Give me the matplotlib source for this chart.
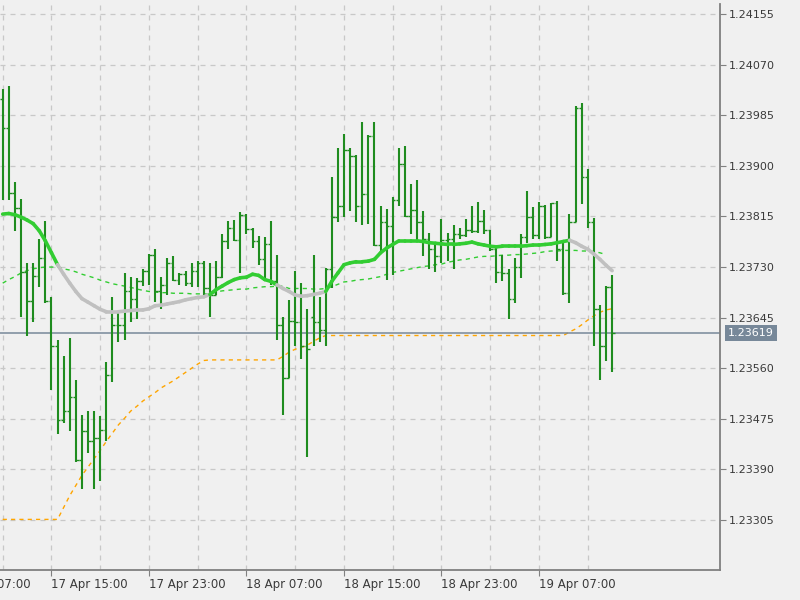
import matplotlib
matplotlib.use('Agg')
import matplotlib.pyplot as plt
from matplotlib.collections import LineCollection
from matplotlib.transforms import blended_transform_factory
import numpy as np
import pandas as pd

# M30 bars, first bar 17 Apr 11:00
start_time = '2019-04-17 11:00'

opens = [1.24012, 1.23963, 1.23854, 1.23829, 1.23722, 1.23673, 1.23715, 1.23746, 1.23673, 1.23598,
         1.23473, 1.23488, 1.23511, 1.23405, 1.23455, 1.23437, 1.23442, 1.23457, 1.23548, 1.23633,
         1.23632, 1.23689, 1.23676, 1.23706, 1.23723, 1.23751, 1.23689, 1.23700, 1.23737, 1.23709,
         1.23718, 1.23703, 1.23723, 1.23737, 1.23694, 1.23683, 1.23714, 1.23774, 1.23796, 1.23775,
         1.23817, 1.23794, 1.23774, 1.23743, 1.23768, 1.23706, 1.23632, 1.23544, 1.23639, 1.23638,
         1.23598, 1.23646, 1.23637, 1.23625, 1.23727, 1.23814, 1.23832, 1.23927, 1.23917, 1.23833,
         1.23852, 1.23950, 1.23767, 1.23805, 1.23799, 1.23842, 1.23903, 1.23816, 1.23826, 1.23805,
         1.23778, 1.23760, 1.23748, 1.23775, 1.23777, 1.23785, 1.23784, 1.23792, 1.23791, 1.23808,
         1.23792, 1.23760, 1.23722, 1.23720, 1.23677, 1.23730, 1.23780, 1.23814, 1.23784, 1.23832,
         1.23781, 1.23837, 1.23760, 1.23686, 1.23806, 1.23998, 1.23882, 1.23805, 1.23660, 1.23598,
         1.23697]
highs = [1.24029, 1.24034, 1.23873, 1.23845, 1.23737, 1.23737, 1.23777, 1.23808, 1.23679, 1.23607,
         1.23580, 1.23611, 1.23541, 1.23482, 1.23489, 1.23488, 1.23479, 1.23570, 1.23679, 1.23655,
         1.23720, 1.23714, 1.23712, 1.23727, 1.23752, 1.23761, 1.23714, 1.23746, 1.23748, 1.23720,
         1.23723, 1.23737, 1.23740, 1.23740, 1.23737, 1.23740, 1.23785, 1.23808, 1.23809, 1.23823,
         1.23819, 1.23796, 1.23782, 1.23780, 1.23808, 1.23751, 1.23646, 1.23675, 1.23723, 1.23703,
         1.23660, 1.23750, 1.23680, 1.23728, 1.23882, 1.23930, 1.23954, 1.23930, 1.23918, 1.23973,
         1.23952, 1.23973, 1.23833, 1.23828, 1.23848, 1.23930, 1.23933, 1.23870, 1.23876, 1.23824,
         1.23788, 1.23768, 1.23811, 1.23788, 1.23800, 1.23796, 1.23811, 1.23832, 1.23839, 1.23826,
         1.23792, 1.23765, 1.23751, 1.23726, 1.23746, 1.23786, 1.23858, 1.23831, 1.23839, 1.23835,
         1.23837, 1.23841, 1.23775, 1.23820, 1.24001, 1.24005, 1.23894, 1.23812, 1.23667, 1.23699,
         1.23717]
lows = [1.23842, 1.23842, 1.23791, 1.23646, 1.23615, 1.23638, 1.23697, 1.23669, 1.23524, 1.23450,
        1.23468, 1.23455, 1.23403, 1.23357, 1.23417, 1.23357, 1.23371, 1.23437, 1.23537, 1.23604,
        1.23608, 1.23637, 1.23643, 1.23699, 1.23700, 1.23672, 1.23660, 1.23683, 1.23706, 1.23700,
        1.23699, 1.23697, 1.23697, 1.23683, 1.23646, 1.23683, 1.23712, 1.23760, 1.23774, 1.23720,
        1.23785, 1.23762, 1.23734, 1.23712, 1.23700, 1.23607, 1.23482, 1.23544, 1.23598, 1.23575,
        1.23411, 1.23598, 1.23604, 1.23598, 1.23694, 1.23805, 1.23814, 1.23825, 1.23805, 1.23801,
        1.23802, 1.23766, 1.23757, 1.23709, 1.23717, 1.23833, 1.23814, 1.23785, 1.23774, 1.23748,
        1.23726, 1.23722, 1.23737, 1.23740, 1.23726, 1.23778, 1.23780, 1.23788, 1.23788, 1.23785,
        1.23757, 1.23703, 1.23706, 1.23643, 1.23669, 1.23712, 1.23771, 1.23777, 1.23777, 1.23777,
        1.23780, 1.23740, 1.23683, 1.23669, 1.23805, 1.23836, 1.23796, 1.23598, 1.23540, 1.23573,
        1.23553]
closes = [1.23963, 1.23854, 1.23829, 1.23722, 1.23673, 1.23715, 1.23746, 1.23673, 1.23598, 1.23473,
          1.23488, 1.23511, 1.23405, 1.23455, 1.23437, 1.23442, 1.23457, 1.23548, 1.23633, 1.23632,
          1.23689, 1.23676, 1.23706, 1.23723, 1.23751, 1.23689, 1.23700, 1.23737, 1.23709, 1.23718,
          1.23703, 1.23723, 1.23737, 1.23694, 1.23683, 1.23714, 1.23774, 1.23796, 1.23775, 1.23817,
          1.23794, 1.23774, 1.23743, 1.23768, 1.23706, 1.23632, 1.23544, 1.23639, 1.23638, 1.23598,
          1.23592, 1.23637, 1.23625, 1.23727, 1.23814, 1.23832, 1.23927, 1.23917, 1.23833, 1.23852,
          1.23950, 1.23767, 1.23805, 1.23799, 1.23842, 1.23903, 1.23816, 1.23826, 1.23805, 1.23778,
          1.23760, 1.23748, 1.23775, 1.23777, 1.23785, 1.23784, 1.23792, 1.23791, 1.23808, 1.23792,
          1.23760, 1.23722, 1.23720, 1.23677, 1.23730, 1.23780, 1.23814, 1.23784, 1.23832, 1.23781,
          1.23837, 1.23760, 1.23686, 1.23806, 1.23998, 1.23882, 1.23805, 1.23660, 1.23598, 1.23697,
          1.23619]

# thick two-colour moving average (1 = green, 0 = silver)
ma_fast = [1.23819, 1.23820, 1.23818, 1.23814, 1.23809, 1.23803, 1.23791, 1.23774, 1.23754, 1.23734,
           1.23718, 1.23703, 1.23689, 1.23677, 1.23671, 1.23665, 1.23659, 1.23655, 1.23655, 1.23655,
           1.23656, 1.23657, 1.23658, 1.23658, 1.23660, 1.23665, 1.23666, 1.23668, 1.23670, 1.23672,
           1.23675, 1.23677, 1.23679, 1.23680, 1.23684, 1.23692, 1.23698, 1.23704, 1.23709, 1.23712,
           1.23713, 1.23718, 1.23716, 1.23709, 1.23706, 1.23700, 1.23694, 1.23689, 1.23683, 1.23681,
           1.23682, 1.23684, 1.23686, 1.23689, 1.23706, 1.23720, 1.23734, 1.23737, 1.23739, 1.23739,
           1.23740, 1.23743, 1.23754, 1.23762, 1.23768, 1.23774, 1.23774, 1.23774, 1.23774, 1.23773,
           1.23771, 1.23770, 1.23769, 1.23768, 1.23768, 1.23769, 1.23770, 1.23772, 1.23769, 1.23767,
           1.23765, 1.23764, 1.23765, 1.23765, 1.23765, 1.23765, 1.23766, 1.23767, 1.23767, 1.23768,
           1.23769, 1.23771, 1.23773, 1.23775, 1.23771, 1.23765, 1.23760, 1.23752, 1.23743, 1.23733,
           1.23724]
ma_trend = [1] * 10 + [0] * 25 + [1] * 11 + [0] * 8 + [1] * 40 + [0] * 7

# thin dashed green moving average
ma_slow = [1.23703, 1.23709, 1.23714, 1.23720, 1.23724, 1.23727, 1.23729, 1.23730, 1.23730, 1.23730,
           1.23727, 1.23725, 1.23722, 1.23718, 1.23715, 1.23712, 1.23708, 1.23705, 1.23702, 1.23700,
           1.23698, 1.23696, 1.23693, 1.23691, 1.23689, 1.23688, 1.23687, 1.23687, 1.23686, 1.23686,
           1.23686, 1.23685, 1.23685, 1.23685, 1.23684, 1.23688, 1.23690, 1.23691, 1.23692, 1.23693,
           1.23693, 1.23695, 1.23696, 1.23697, 1.23697, 1.23698, 1.23698, 1.23694, 1.23694, 1.23694,
           1.23694, 1.23693, 1.23693, 1.23694, 1.23697, 1.23701, 1.23705, 1.23706, 1.23708, 1.23709,
           1.23710, 1.23712, 1.23714, 1.23718, 1.23721, 1.23723, 1.23725, 1.23727, 1.23729, 1.23731,
           1.23732, 1.23734, 1.23735, 1.23738, 1.23740, 1.23742, 1.23743, 1.23745, 1.23747, 1.23748,
           1.23748, 1.23749, 1.23750, 1.23750, 1.23751, 1.23751, 1.23752, 1.23753, 1.23754, 1.23756,
           1.23757, 1.23757, 1.23758, 1.23758, 1.23758, 1.23757, 1.23757, 1.23756, 1.23754, 1.23751,
           np.nan]

# orange dashed trailing level
trail = [1.23306] * 10 + [
         1.23326, 1.23346, 1.23363, 1.23380, 1.23394, 1.23408, 1.23422, 1.23437, 1.23451, 1.23465,
         1.23476, 1.23488, 1.23496, 1.23505, 1.23512, 1.23519, 1.23527, 1.23533, 1.23539, 1.23546,
         1.23553, 1.23560, 1.23567, 1.23573] + [1.23574] * 12 + [
         1.23580, 1.23587, 1.23592, 1.23595, 1.23599, 1.23605, 1.23611] + [1.23615] * 40 + [
         1.23621, 1.23626, 1.23633, 1.23641, 1.23648, 1.23654, 1.23658, 1.23660]

current_price = 1.23619
y_ticks = [1.23305, 1.23390, 1.23475, 1.23560, 1.23645, 1.23730,
           1.23815, 1.23900, 1.23985, 1.24070, 1.24155]

bg = '#f0f0f0'
bar_color = '#1f8c1f'
text_color = '#3a3a3a'
frame_color = '#808080'

times = pd.date_range(start_time, periods=len(closes), freq='30min')
x = np.arange(len(closes))

fig = plt.figure(figsize=(8, 6), dpi=100, facecolor=bg)
ax = fig.add_axes([0, 0.05, 0.9, 0.9433], facecolor=bg)

# grid
grid_idx = [i for i, t in enumerate(times) if t.minute == 0 and t.hour % 4 == 3]
for gx in grid_idx:
    ax.axvline(gx, color='#c8c8c8', lw=0.9, ls=(0, (4, 4)), zorder=0)
for gy in y_ticks:
    ax.axhline(gy, color='#c8c8c8', lw=0.9, ls=(0, (4, 4)), zorder=0)

# indicator lines
ax.plot(x, trail, color='#ffa500', lw=1.0, ls=(0, (3, 3)), zorder=2)
ax.plot(x, ma_slow, color='#32cd32', lw=1.0, ls=(0, (3, 3)), zorder=2)
ax.axhline(current_price, color='#778899', lw=1.1, zorder=2)

# bars
ax.vlines(x, lows, highs, color=bar_color, lw=1.5, zorder=3)
ax.hlines(opens, x - 0.45, x, color=bar_color, lw=1.0, zorder=3)
ax.hlines(closes, x, x + 0.45, color=bar_color, lw=1.0, zorder=3)

# thick MA, coloured by trend
segs = [[(x[i - 1], ma_fast[i - 1]), (x[i], ma_fast[i])] for i in range(1, len(x))]
cols = ['#32cd32' if ma_trend[i] else '#c0c0c0' for i in range(1, len(x))]
ax.add_collection(LineCollection(segs, colors=cols, linewidths=2.6, zorder=4,
                                 capstyle='round'))

ax.set_xlim(-0.443, 117.7)
ax.set_ylim(1.23221, 1.24172)

# axes look
for side in ['left', 'top']:
    ax.spines[side].set_visible(False)
for side in ['right', 'bottom']:
    ax.spines[side].set_color(frame_color)
    ax.spines[side].set_linewidth(1.3)

ax.yaxis.tick_right()
ax.set_yticks(y_ticks)
ax.set_yticklabels([f'{v:.5f}' for v in y_ticks])
ax.tick_params(axis='y', direction='out', length=4, pad=2, labelsize=8,
               colors=frame_color, labelcolor=text_color)

label_idx = [i for i, t in enumerate(times) if t.minute == 0 and t.hour % 8 == 7]
ax.set_xticks(label_idx)
ax.set_xticklabels([times[i].strftime('%d %b %H:%M') for i in label_idx], ha='left')
ax.tick_params(axis='x', direction='out', length=4, pad=2, labelsize=8.5,
               colors=frame_color, labelcolor=text_color)

# the previous label sits partly off the left edge, as in the terminal window
prev_time = times[label_idx[0]] - pd.Timedelta(hours=8)
ax.annotate(prev_time.strftime('%d %b %H:%M'), xy=(label_idx[0] - 16, 0),
            xycoords=('data', 'axes fraction'), xytext=(0, -6), textcoords='offset points',
            ha='left', va='top', fontsize=8.5, color=text_color, annotation_clip=False)

# current price tag
trans = blended_transform_factory(ax.transAxes, ax.transData)
ax.text(1.011, current_price, f'{current_price:.5f}', transform=trans, ha='left', va='center',
        fontsize=8, color='white', zorder=10,
        bbox=dict(boxstyle='square,pad=0.25', fc='#778899', ec='none'))

plt.savefig('out.png', dpi=100, facecolor=bg)
plt.close()
